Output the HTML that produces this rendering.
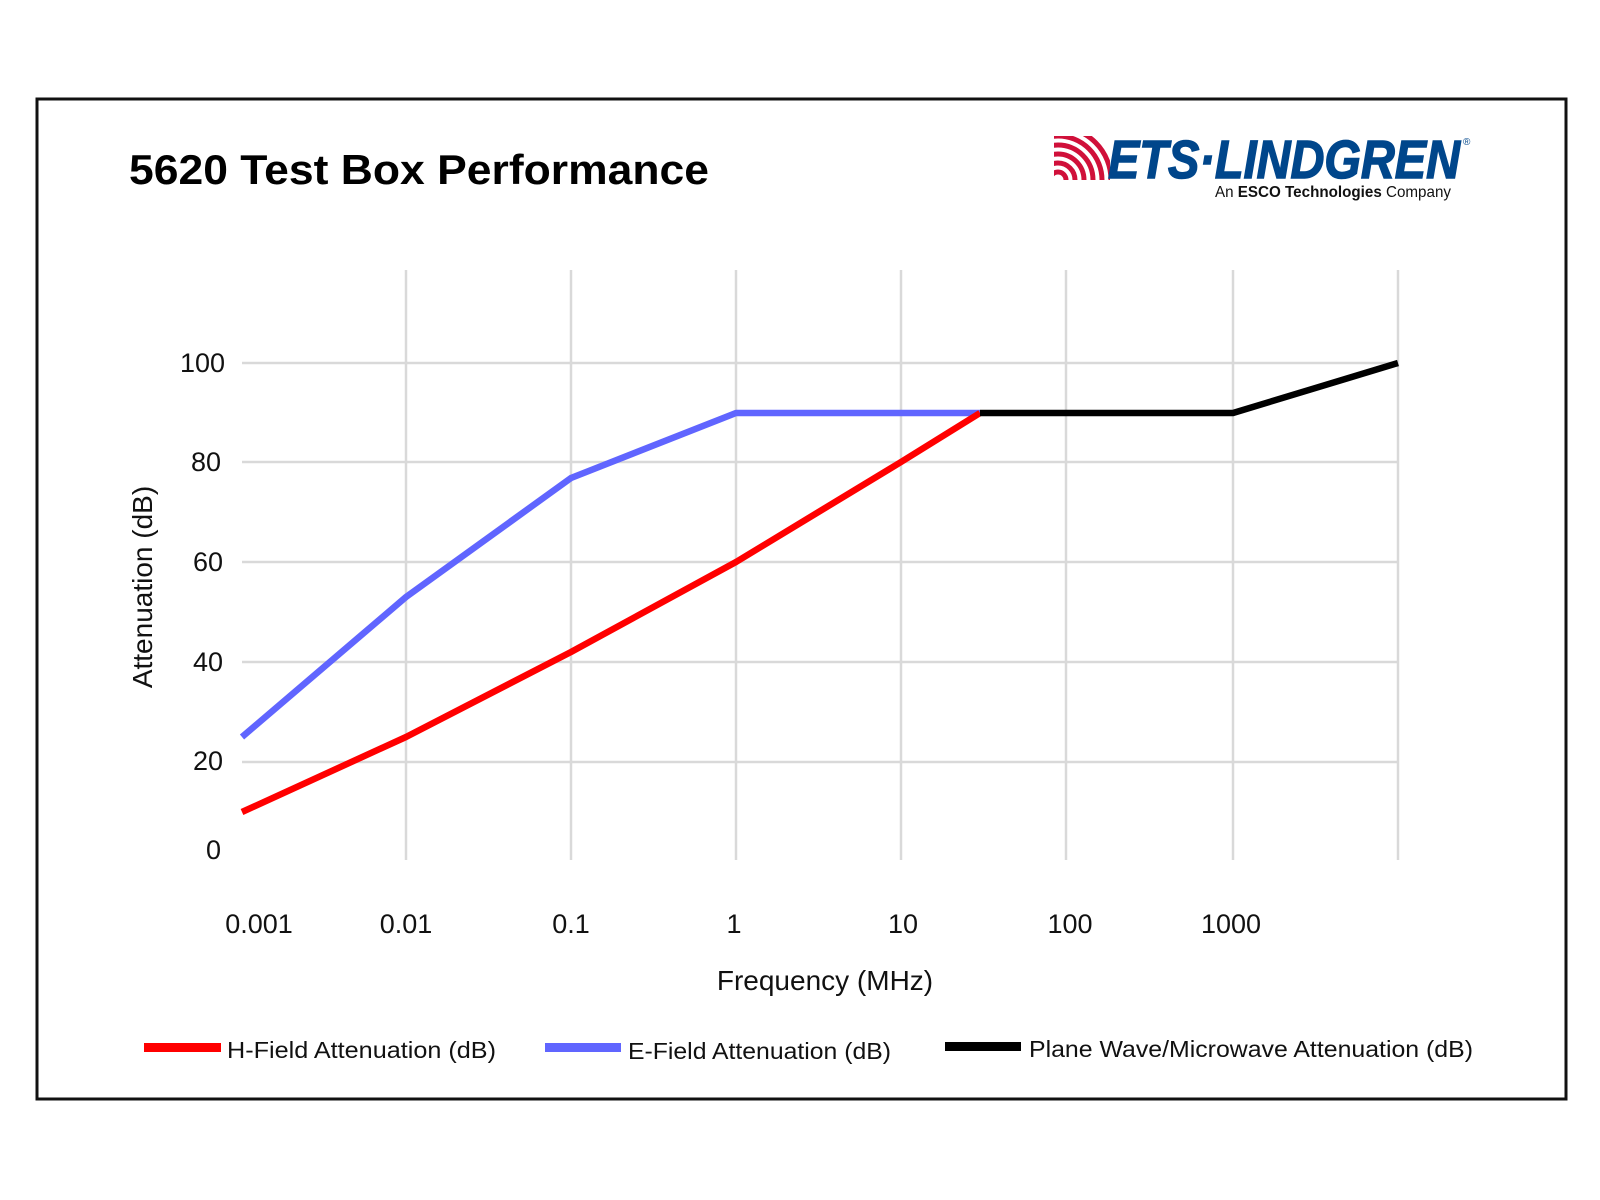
<!DOCTYPE html>
<html><head><meta charset="utf-8"><style>
html,body{margin:0;padding:0;background:#fff;}
svg{display:block;}
</style></head><body>
<svg width="1600" height="1200" viewBox="0 0 1600 1200" xmlns="http://www.w3.org/2000/svg" font-family="Liberation Sans, sans-serif">
<rect x="0" y="0" width="1600" height="1200" fill="#fff"/>
<rect x="37" y="99" width="1529" height="1000" fill="none" stroke="#111" stroke-width="3"/>
<text x="129" y="184" font-size="42" font-weight="bold" fill="#000" textLength="580" lengthAdjust="spacingAndGlyphs">5620 Test Box Performance</text>
<!-- logo -->
<g>
  <clipPath id="lc"><rect x="1054" y="136" width="56" height="44"/></clipPath>
  <g clip-path="url(#lc)" fill="none" stroke="#d0103a" stroke-width="5">
    <circle cx="1058" cy="180" r="8"/><circle cx="1058" cy="180" r="17"/><circle cx="1058" cy="180" r="26"/><circle cx="1058" cy="180" r="35"/><circle cx="1058" cy="180" r="44"/><circle cx="1058" cy="180" r="53"/>
  </g>
  <text x="1108" y="178" font-size="54" font-weight="bold" font-style="italic" fill="#00468b" textLength="352" lengthAdjust="spacingAndGlyphs" stroke="#00468b" stroke-width="1.5">ETS·LINDGREN</text>
  <text x="1463" y="145" font-size="10" fill="#00468b">®</text>
  <text x="1215" y="197" font-size="16" fill="#111" textLength="236" lengthAdjust="spacingAndGlyphs">An <tspan font-weight="bold">ESCO Technologies</tspan> Company</text>
</g>
<!-- grid -->
<g stroke="#d9d9d9" stroke-width="2.5">
  <line x1="242" y1="363" x2="1398" y2="363"/>
  <line x1="242" y1="462" x2="1398" y2="462"/>
  <line x1="242" y1="562" x2="1398" y2="562"/>
  <line x1="242" y1="662" x2="1398" y2="662"/>
  <line x1="242" y1="762" x2="1398" y2="762"/>
  <line x1="406" y1="270" x2="406" y2="860"/>
  <line x1="571" y1="270" x2="571" y2="860"/>
  <line x1="736" y1="270" x2="736" y2="860"/>
  <line x1="901" y1="270" x2="901" y2="860"/>
  <line x1="1066" y1="270" x2="1066" y2="860"/>
  <line x1="1233" y1="270" x2="1233" y2="860"/>
  <line x1="1398" y1="270" x2="1398" y2="860"/>
</g>
<!-- y labels -->
<g font-size="27" fill="#111" text-anchor="end">
  <text x="225" y="372">100</text>
  <text x="221" y="471">80</text>
  <text x="223" y="571">60</text>
  <text x="223" y="671">40</text>
  <text x="223" y="770">20</text>
  <text x="221" y="859">0</text>
</g>
<g font-size="27" fill="#111" text-anchor="middle">
  <text x="259" y="933">0.001</text>
  <text x="406" y="933">0.01</text>
  <text x="571" y="933">0.1</text>
  <text x="734" y="933">1</text>
  <text x="903" y="933">10</text>
  <text x="1070" y="933">100</text>
  <text x="1231" y="933">1000</text>
</g>
<text x="825" y="990" font-size="28" fill="#111" text-anchor="middle">Frequency (MHz)</text>
<text transform="translate(152,587) rotate(-90)" font-size="28" fill="#111" text-anchor="middle">Attenuation (dB)</text>
<!-- series -->
<g fill="none" stroke-width="6.5" stroke-linejoin="round">
  <polyline stroke="#6065ff" points="242,737 406,597 571,478 736,413 980,413"/>
  <polyline stroke="#ff0000" points="242,812 406,737 571,652 736,562 901,462 980,413"/>
  <polyline stroke="#000" points="980,413 1233,413 1398,363"/>
</g>
<!-- legend -->
<rect x="144" y="1043" width="77" height="9" fill="#ff0000"/>
<text x="227" y="1058" font-size="23" fill="#111" textLength="269" lengthAdjust="spacingAndGlyphs">H-Field Attenuation (dB)</text>
<rect x="545" y="1043" width="76" height="9" fill="#6065ff"/>
<text x="628" y="1059" font-size="23" fill="#111" textLength="263" lengthAdjust="spacingAndGlyphs">E-Field Attenuation (dB)</text>
<rect x="945" y="1042" width="76" height="9" fill="#000"/>
<text x="1029" y="1057" font-size="23" fill="#111" textLength="444" lengthAdjust="spacingAndGlyphs">Plane Wave/Microwave Attenuation (dB)</text>
</svg>
</body></html>
